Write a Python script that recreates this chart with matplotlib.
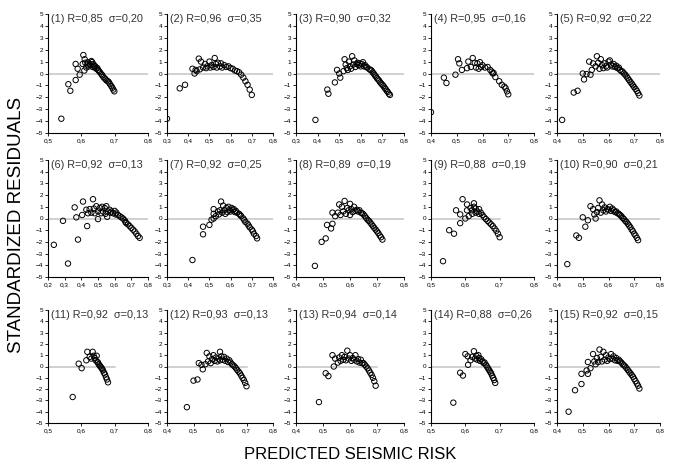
import numpy as np
import matplotlib
matplotlib.use('Agg')
import matplotlib.pyplot as plt
from matplotlib import font_manager as fm

# residuals vs predicted seismic risk, 15 models
x1 = [0.54,0.561,0.567,0.583,0.583,0.589,0.595,0.604,0.606,0.61,0.609,0.612,0.615,0.618,0.62,0.622,0.625,0.627,0.63,0.632,0.634,0.636,0.638,0.64,0.642,0.645,0.648,0.65,0.653,0.656,0.66,0.663,0.666,0.67,0.673,0.676,0.68,0.683,0.686,0.69,0.693,0.696,0.699]
y1 = [-3.8,-0.9,-1.45,-0.55,0.8,0.4,-0.1,0.8,1.55,1.2,0.25,0.9,0.5,0.75,0.95,0.6,0.8,0.7,1.05,0.95,0.55,0.8,0.65,0.5,0.6,0.4,0.45,0.3,0.2,0.1,-0.05,-0.15,-0.3,-0.4,-0.5,-0.6,-0.65,-0.75,-0.9,-1.05,-1.2,-1.35,-1.5]

x2 = [0.30,0.36,0.385,0.42,0.43,0.435,0.44,0.45,0.455,0.46,0.47,0.48,0.485,0.49,0.50,0.505,0.51,0.52,0.525,0.53,0.535,0.54,0.55,0.555,0.56,0.57,0.58,0.59,0.60,0.61,0.62,0.63,0.64,0.65,0.66,0.67,0.68,0.69,0.70]
y2 = [-3.8,-1.25,-0.95,0.4,0.0,0.3,0.2,1.25,0.35,1.0,0.5,0.8,0.45,0.6,1.0,0.5,0.7,0.55,1.3,0.8,0.5,0.9,0.6,0.85,0.5,0.7,0.55,0.6,0.45,0.4,0.25,0.2,0.1,-0.1,-0.35,-0.65,-0.95,-1.35,-1.8]

x3 = [0.39,0.445,0.45,0.48,0.49,0.50,0.505,0.52,0.525,0.53,0.535,0.54,0.545,0.55,0.555,0.56,0.565,0.57,0.575,0.58,0.585,0.59,0.595,0.60,0.605,0.61,0.615,0.62,0.625,0.63,0.64,0.645,0.65,0.655,0.66,0.665,0.67,0.675,0.68,0.685,0.69,0.695,0.70,0.705,0.71,0.715,0.72,0.725,0.73,0.735]
y3 = [-3.9,-1.35,-1.7,-0.75,0.3,0.0,-0.35,0.2,1.2,0.75,0.45,0.3,1.0,0.6,0.4,1.45,0.75,1.1,0.55,0.8,0.9,0.7,0.85,0.6,0.8,0.95,0.6,0.7,0.55,0.5,0.35,0.3,0.25,0.1,0.0,-0.15,-0.25,-0.4,-0.5,-0.6,-0.75,-0.85,-0.95,-1.05,-1.2,-1.3,-1.45,-1.55,-1.7,-1.8]

x4 = [0.40,0.45,0.46,0.495,0.505,0.51,0.52,0.54,0.545,0.555,0.562,0.57,0.575,0.58,0.585,0.59,0.595,0.60,0.61,0.62,0.63,0.636,0.64,0.643,0.65,0.665,0.675,0.685,0.69,0.695,0.70]
y4 = [-3.25,-0.35,-0.8,-0.1,1.2,0.85,0.3,0.45,1.0,0.55,1.3,0.9,0.5,0.85,0.4,0.95,0.55,0.7,0.5,0.55,0.3,0.15,0.0,0.05,-0.3,-0.65,-0.95,-1.1,-1.25,-1.5,-1.75]

x5 = [0.42,0.465,0.48,0.50,0.505,0.515,0.525,0.53,0.535,0.54,0.55,0.555,0.56,0.565,0.57,0.575,0.58,0.585,0.59,0.595,0.60,0.605,0.61,0.615,0.62,0.625,0.63,0.635,0.64,0.645,0.65,0.655,0.66,0.665,0.67,0.675,0.68,0.685,0.69,0.695,0.70,0.705,0.71,0.715,0.72]
y5 = [-3.9,-1.6,-1.45,0.0,-0.5,-0.05,1.0,-0.1,0.3,0.85,0.6,1.45,0.9,0.4,1.2,0.7,0.45,0.85,0.6,0.5,1.0,1.1,0.75,0.6,0.8,0.55,0.65,0.45,0.5,0.3,0.2,0.15,0.0,-0.1,-0.25,-0.4,-0.55,-0.7,-0.85,-1.0,-1.15,-1.3,-1.45,-1.65,-1.85]

x6 = [0.235,0.29,0.32,0.36,0.37,0.38,0.405,0.41,0.43,0.435,0.44,0.45,0.46,0.47,0.475,0.48,0.49,0.50,0.50,0.51,0.52,0.525,0.53,0.54,0.545,0.55,0.555,0.56,0.57,0.575,0.58,0.59,0.60,0.605,0.61,0.62,0.63,0.64,0.65,0.66,0.665,0.67,0.68,0.69,0.70,0.71,0.72,0.73,0.74,0.75]
y6 = [-2.25,-0.2,-3.85,0.95,0.1,-1.8,0.3,1.45,0.75,-0.65,0.45,0.8,0.5,1.65,0.85,0.45,1.05,-0.05,0.6,0.9,0.45,1.0,0.6,0.9,0.4,1.05,0.15,0.6,0.75,0.5,0.6,0.45,0.65,0.35,0.5,0.3,0.2,0.1,0.0,-0.15,-0.3,-0.4,-0.5,-0.65,-0.8,-0.95,-1.1,-1.3,-1.5,-1.65]

x7 = [0.42,0.47,0.47,0.50,0.51,0.52,0.52,0.52,0.53,0.54,0.545,0.55,0.555,0.56,0.565,0.57,0.575,0.58,0.585,0.59,0.595,0.60,0.605,0.61,0.615,0.62,0.625,0.63,0.64,0.645,0.65,0.66,0.665,0.67,0.68,0.685,0.69,0.70,0.705,0.71,0.72,0.725]
y7 = [-3.55,-0.7,-1.35,-0.55,-0.1,0.0,0.4,0.8,0.2,0.6,0.35,0.7,1.45,0.5,1.1,0.7,0.4,0.9,0.55,1.0,0.75,0.6,0.9,0.7,0.8,0.55,0.65,0.5,0.4,0.3,0.2,0.0,-0.15,-0.3,-0.45,-0.6,-0.75,-0.95,-1.1,-1.3,-1.5,-1.7]

x8 = [0.47,0.495,0.51,0.515,0.53,0.535,0.535,0.545,0.555,0.56,0.565,0.57,0.575,0.58,0.585,0.59,0.595,0.60,0.60,0.605,0.61,0.615,0.62,0.625,0.63,0.635,0.64,0.645,0.65,0.655,0.66,0.665,0.67,0.675,0.68,0.685,0.69,0.695,0.70,0.705,0.71,0.715,0.72]
y8 = [-4.05,-2.0,-1.7,-0.55,-0.85,-0.45,0.5,0.2,0.5,1.2,0.3,1.0,0.6,1.5,0.4,0.9,0.7,1.25,0.3,0.8,0.55,1.0,0.65,0.75,0.6,0.7,0.5,0.45,0.35,0.2,0.05,-0.1,-0.2,-0.35,-0.5,-0.65,-0.8,-0.95,-1.1,-1.25,-1.45,-1.6,-1.8]

x9 = [0.535,0.553,0.567,0.573,0.585,0.585,0.592,0.60,0.605,0.605,0.61,0.615,0.62,0.62,0.625,0.625,0.63,0.63,0.635,0.64,0.64,0.645,0.65,0.655,0.66,0.665,0.67,0.675,0.68,0.685,0.69,0.695,0.70]
y9 = [-3.65,-1.0,-1.3,0.7,0.35,-0.4,1.65,0.0,1.2,0.7,0.2,0.9,0.4,0.7,1.3,1.0,0.5,0.85,0.6,0.8,0.4,0.5,0.3,0.1,-0.05,-0.2,-0.35,-0.5,-0.65,-0.85,-1.05,-1.3,-1.6]

x10 = [0.44,0.475,0.485,0.50,0.51,0.52,0.53,0.54,0.545,0.55,0.555,0.56,0.565,0.57,0.575,0.58,0.585,0.59,0.595,0.60,0.605,0.61,0.615,0.62,0.625,0.63,0.635,0.64,0.645,0.65,0.655,0.66,0.665,0.67,0.675,0.68,0.685,0.69,0.695,0.70,0.705,0.71,0.715]
y10 = [-3.9,-1.45,-1.65,0.1,-0.7,-0.15,1.05,0.8,0.35,0.0,0.55,0.9,1.55,0.5,1.2,0.7,0.95,0.6,0.8,0.75,1.0,0.65,0.85,0.7,0.55,0.6,0.45,0.4,0.3,0.2,0.05,-0.05,-0.2,-0.3,-0.45,-0.6,-0.75,-0.95,-1.1,-1.3,-1.45,-1.65,-1.85]

x11 = [0.574,0.592,0.601,0.615,0.618,0.625,0.63,0.634,0.637,0.64,0.643,0.646,0.648,0.65,0.652,0.655,0.657,0.66,0.662,0.665,0.668,0.671,0.674,0.677,0.68]
y11 = [-2.7,0.25,-0.15,0.55,1.3,0.85,0.7,1.3,0.95,0.75,0.55,0.95,0.4,0.35,0.2,0.1,0.0,-0.1,-0.2,-0.35,-0.55,-0.7,-0.95,-1.15,-1.4]

x12 = [0.475,0.50,0.515,0.52,0.53,0.535,0.545,0.55,0.555,0.56,0.565,0.57,0.575,0.58,0.585,0.59,0.595,0.60,0.60,0.605,0.61,0.615,0.62,0.625,0.63,0.635,0.64,0.645,0.65,0.655,0.66,0.665,0.67,0.675,0.68,0.685,0.69,0.695,0.70]
y12 = [-3.6,-1.25,-1.15,0.3,0.15,-0.25,0.2,1.2,0.45,0.9,0.3,0.65,1.0,0.5,0.8,0.45,0.7,1.3,0.55,0.9,0.6,0.85,0.5,0.7,0.4,0.55,0.35,0.2,0.1,0.0,-0.15,-0.3,-0.45,-0.6,-0.8,-1.0,-1.2,-1.45,-1.75]

x13 = [0.485,0.51,0.52,0.535,0.54,0.545,0.555,0.56,0.565,0.57,0.575,0.58,0.585,0.59,0.595,0.60,0.605,0.61,0.615,0.62,0.625,0.63,0.635,0.64,0.645,0.65,0.655,0.66,0.665,0.67,0.675,0.68,0.685,0.69,0.695]
y13 = [-3.15,-0.6,-0.85,1.0,0.0,0.7,0.35,0.8,0.5,1.0,0.6,0.85,0.55,1.4,0.7,1.0,0.5,0.75,0.6,1.0,0.45,0.65,0.35,0.6,0.3,0.3,0.15,0.0,-0.15,-0.35,-0.55,-0.75,-1.0,-1.3,-1.7]

x14 = [0.565,0.585,0.593,0.60,0.607,0.608,0.615,0.62,0.625,0.628,0.632,0.635,0.638,0.64,0.643,0.646,0.65,0.653,0.656,0.66,0.663,0.666,0.669,0.672,0.675,0.678,0.681,0.684,0.687]
y14 = [-3.2,-0.55,-0.8,1.1,0.9,0.15,0.55,0.85,1.35,0.7,0.95,0.6,1.0,0.75,0.5,0.65,0.45,0.3,0.35,0.15,0.0,-0.15,-0.3,-0.45,-0.6,-0.8,-1.0,-1.2,-1.45]

x15 = [0.445,0.47,0.495,0.495,0.515,0.52,0.52,0.53,0.54,0.545,0.55,0.555,0.56,0.565,0.57,0.575,0.58,0.585,0.59,0.595,0.60,0.605,0.61,0.615,0.62,0.625,0.63,0.635,0.64,0.645,0.65,0.655,0.66,0.665,0.67,0.675,0.68,0.685,0.69,0.695,0.70,0.705,0.71,0.715,0.72]
y15 = [-4.0,-2.1,-1.55,-0.65,-0.35,-0.65,0.4,-0.15,1.1,0.45,0.2,0.75,0.4,1.5,0.85,0.45,1.3,0.6,1.0,0.5,0.8,0.65,1.1,0.7,0.9,0.55,0.75,0.5,0.6,0.45,0.35,0.2,0.1,0.0,-0.15,-0.3,-0.45,-0.6,-0.75,-0.9,-1.1,-1.3,-1.5,-1.7,-1.95]

r_vals = [0.85, 0.96, 0.90, 0.95, 0.92, 0.92, 0.92, 0.89, 0.88, 0.90, 0.92, 0.93, 0.94, 0.88, 0.92]
sigma_vals = [0.20, 0.35, 0.32, 0.16, 0.22, 0.13, 0.25, 0.19, 0.19, 0.21, 0.13, 0.13, 0.14, 0.26, 0.15]
x_start = [0.5, 0.3, 0.3, 0.4, 0.4, 0.2, 0.3, 0.4, 0.5, 0.4, 0.5, 0.4, 0.4, 0.5, 0.4]
zero_line_end = [0.8, 0.8, 0.8, 0.8, 0.8, 0.8, 0.8, 0.8, 0.7, 0.8, 0.7, 0.7, 0.7, 0.7, 0.8]

xs = [x1, x2, x3, x4, x5, x6, x7, x8, x9, x10, x11, x12, x13, x14, x15]
ys = [y1, y2, y3, y4, y5, y6, y7, y8, y9, y10, y11, y12, y13, y14, y15]

installed = {f.name for f in fm.fontManager.ttflist}
narrow = 'Liberation Sans Narrow' in installed
plt.rcParams['font.family'] = ['Liberation Sans', 'DejaVu Sans']

W, H = 682, 470
fig = plt.figure(figsize=(W / 100, H / 100), dpi=100)

col_l = [48, 167, 296, 431, 557]
col_r = [148, 273, 404, 534, 660]
row_t = [14, 160, 310]
row_b = [133, 277, 423]

title_size = 9 if narrow else 7.8
for i in range(15):
    r, c = divmod(i, 5)
    ax = fig.add_axes([col_l[c] / W, 1 - row_b[r] / H,
                       (col_r[c] - col_l[c]) / W, (row_b[r] - row_t[r]) / H])
    ax.set_xlim(x_start[i], 0.8)
    ax.set_ylim(-5, 5)
    ax.plot([x_start[i], zero_line_end[i]], [0, 0], color='#c4c4c4', lw=1.1, zorder=1)
    ax.scatter(xs[i], ys[i], s=15, facecolors='none', edgecolors='black',
               linewidths=0.7, zorder=2)
    for side in ['top', 'right']:
        ax.spines[side].set_visible(False)
    for side in ['left', 'bottom']:
        ax.spines[side].set_linewidth(0.8)
    xt = np.round(np.arange(x_start[i], 0.8001, 0.1), 1)
    ax.set_xticks(xt)
    ax.set_xticklabels([('%.1f' % v).replace('.', ',') for v in xt])
    ax.set_yticks(range(-5, 6))
    ax.tick_params(length=2, width=0.6, labelsize=4.6, pad=1.5)
    label = '(%d) R=%s  σ=%s' % (i + 1, ('%.2f' % r_vals[i]).replace('.', ','),
                                 ('%.2f' % sigma_vals[i]).replace('.', ','))
    fam = ['Liberation Sans Narrow', 'DejaVu Sans'] if narrow else ['Liberation Sans', 'DejaVu Sans']
    ax.text(0.03, 1.0, label, transform=ax.transAxes, ha='left', va='top',
            fontsize=title_size, color='#333333', family=fam)

fig.text(0.024, 0.522, 'STANDARDIZED RESIDUALS', rotation=90, ha='center',
         va='center', fontsize=13.5)
fig.text(0.514, 0.032, 'PREDICTED SEISMIC RISK', ha='center', va='center',
         fontsize=13 if narrow else 12)

fig.savefig('out.png', dpi=100)
